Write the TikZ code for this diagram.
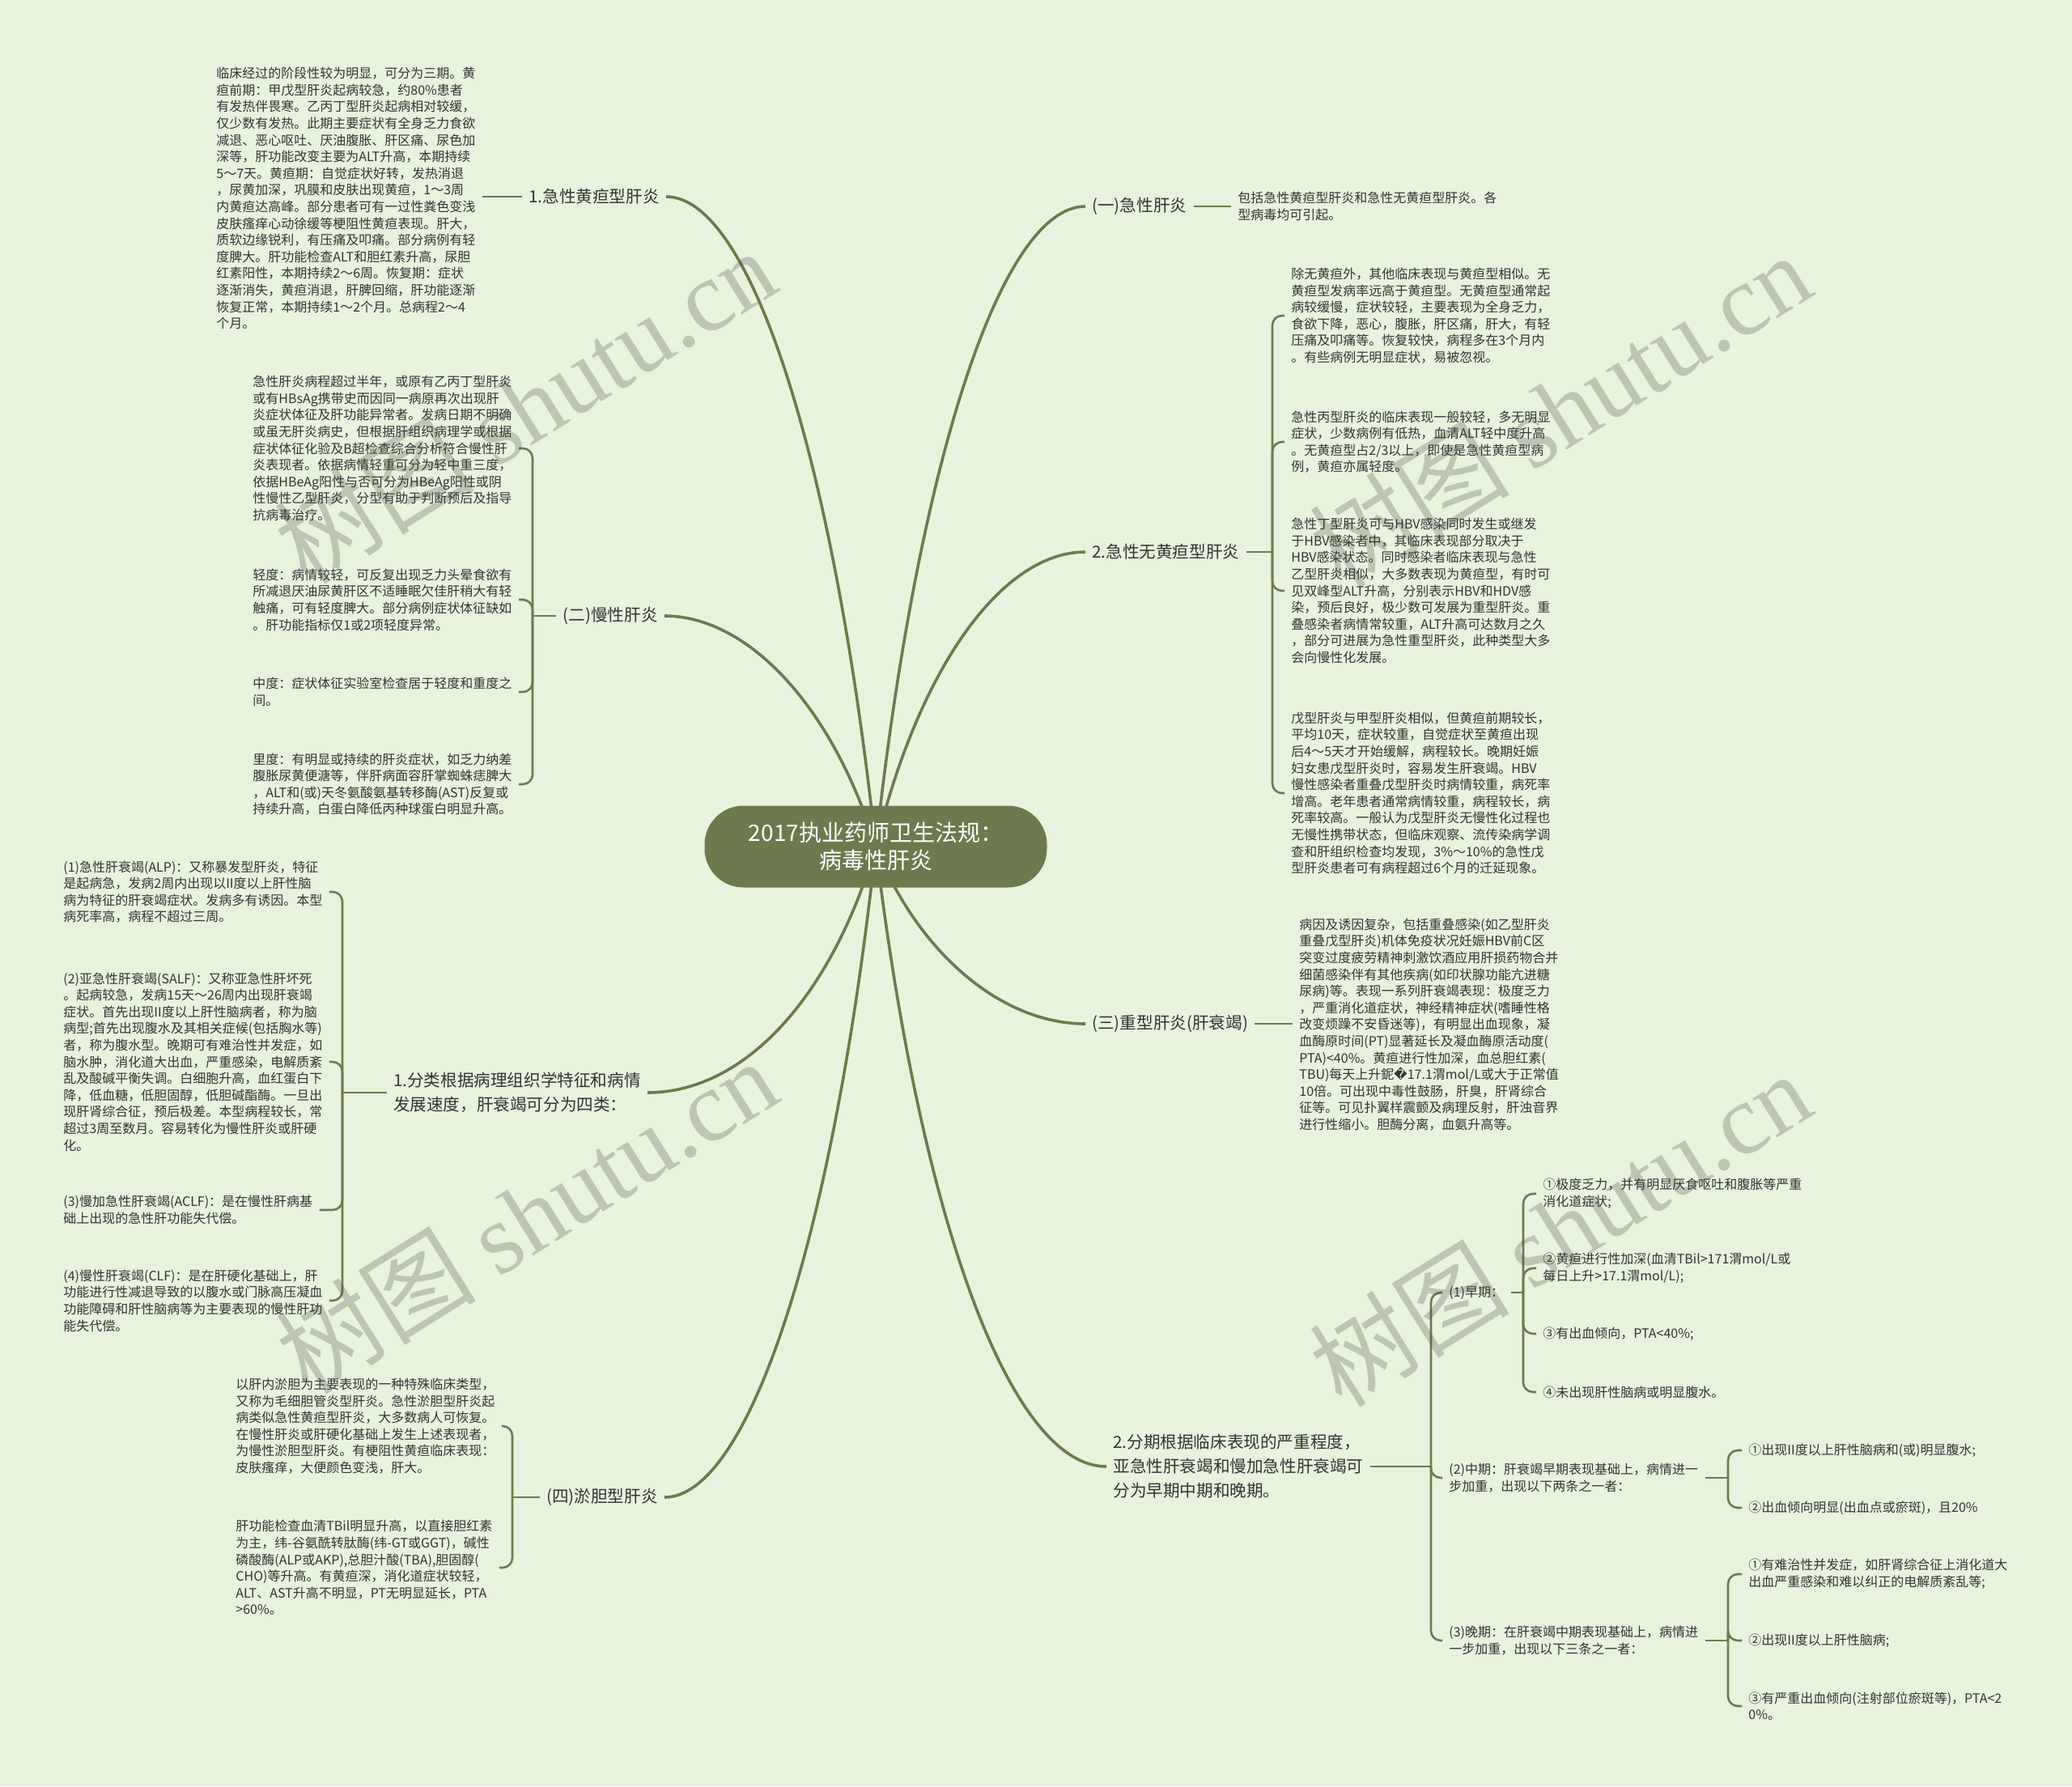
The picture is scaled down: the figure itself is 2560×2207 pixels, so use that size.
\documentclass[tikz,border=0pt]{standalone}
\usepackage{fontspec}
\setmainfont{Noto Sans CJK SC}
\newfontfamily\wmserif{Liberation Serif}
\newfontfamily\dejavu{DejaVu Sans}
\usetikzlibrary{calc}
\definecolor{bgc}{RGB}{232,243,221}
\definecolor{linec}{RGB}{110,122,78}
\definecolor{rootc}{RGB}{108,122,77}
\definecolor{txtc}{RGB}{51,51,51}
\pgfdeclarelayer{bgl}
\pgfdeclarelayer{lnl}
\pgfsetlayers{bgl,lnl,main}
\tikzset{
  small/.style={font=\fontsize{8}{10.3}\selectfont, text=txtc, align=left, inner xsep=4pt, inner ysep=0pt},
  branch/.style={font=\fontsize{10.3}{15}\selectfont, text=txtc, align=left, inner xsep=4pt, inner ysep=0pt},
  rootnode/.style={fill=rootc, rounded corners=24pt, text=white, font=\fontsize{14}{17}\selectfont, align=center, minimum width=211.5pt, minimum height=50.5pt, inner sep=0pt},
  mainline/.style={draw=linec, line width=1.8pt},
  subline/.style={draw=linec, line width=1.3pt, rounded corners=6pt},
  wm/.style={font=\fontsize{62}{62}\selectfont, text=black!75, text opacity=0.25, rotate=32, inner sep=0pt}
}
\begin{document}
\begin{tikzpicture}[x=0.5pt,y=-0.5pt]
\useasboundingbox (0,0) rectangle (2560,2207);
\begin{pgfonlayer}{bgl}
\fill[bgc] (0,0) rectangle (2560,2207);
\end{pgfonlayer}

% root
\node[rootnode] (root) at (1082,1046) {2017执业药师卫生法规：\\病毒性肝炎};

% level 1
\node[branch, anchor=east] (L1) at (823,243) {1.急性黄疸型肝炎};
\node[branch, anchor=east] (L2) at (821,761) {(二)慢性肝炎};
\node[branch, anchor=east] (L3) at (800,1350) {1.分类根据病理组织学特征和病情\\发展速度，肝衰竭可分为四类：};
\node[branch, anchor=east] (L4) at (821,1850) {(四)淤胆型肝炎};
\node[branch, anchor=west] (R1) at (1341,255) {(一)急性肝炎};
\node[branch, anchor=west] (R2) at (1341,682) {2.急性无黄疸型肝炎};
\node[branch, anchor=west] (R3) at (1341,1265) {(三)重型肝炎(肝衰竭)};
\node[branch, anchor=west] (R4) at (1367,1812) {2.分期根据临床表现的严重程度，\\亚急性肝衰竭和慢加急性肝衰竭可\\分为早期中期和晚期。};

% children of L1
\node[small, anchor=west] (A1) at (259,245) {临床经过的阶段性较为明显，可分为三期。黄\\疸前期：甲戊型肝炎起病较急，约80\%患者\\有发热伴畏寒。乙丙丁型肝炎起病相对较缓，\\仅少数有发热。此期主要症状有全身乏力食欲\\减退、恶心呕吐、厌油腹胀、肝区痛、尿色加\\深等，肝功能改变主要为ALT升高，本期持续\\5～7天。黄疸期：自觉症状好转，发热消退\\，尿黄加深，巩膜和皮肤出现黄疸，1～3周\\内黄疸达高峰。部分患者可有一过性粪色变浅\\皮肤瘙痒心动徐缓等梗阻性黄疸表现。肝大，\\质软边缘锐利，有压痛及叩痛。部分病例有轻\\度脾大。肝功能检查ALT和胆红素升高，尿胆\\红素阳性，本期持续2～6周。恢复期：症状\\逐渐消失，黄疸消退，肝脾回缩，肝功能逐渐\\恢复正常，本期持续1～2个月。总病程2～4\\个月。};

% children of L2
\node[small, anchor=west] (B1) at (304,554) {急性肝炎病程超过半年，或原有乙丙丁型肝炎\\或有HBsAg携带史而因同一病原再次出现肝\\炎症状体征及肝功能异常者。发病日期不明确\\或虽无肝炎病史，但根据肝组织病理学或根据\\症状体征化验及B超检查综合分析符合慢性肝\\炎表现者。依据病情轻重可分为轻中重三度，\\依据HBeAg阳性与否可分为HBeAg阳性或阴\\性慢性乙型肝炎，分型有助于判断预后及指导\\抗病毒治疗。};
\node[small, anchor=west] (B2) at (304,741) {轻度：病情较轻，可反复出现乏力头晕食欲有\\所减退厌油尿黄肝区不适睡眠欠佳肝稍大有轻\\触痛，可有轻度脾大。部分病例症状体征缺如\\。肝功能指标仅1或2项轻度异常。};
\node[small, anchor=west] (B3) at (304,855) {中度：症状体征实验室检查居于轻度和重度之\\间。};
\node[small, anchor=west] (B4) at (304,969) {里度：有明显或持续的肝炎症状，如乏力纳差\\腹胀尿黄便溏等，伴肝病面容肝掌蜘蛛痣脾大\\，ALT和(或)天冬氨酸氨基转移酶(AST)反复或\\持续升高，白蛋白降低丙种球蛋白明显升高。};

% children of L3
\node[small, anchor=west] (E1) at (70,1102) {(1)急性肝衰竭(ALP)：又称暴发型肝炎，特征\\是起病急，发病2周内出现以II度以上肝性脑\\病为特征的肝衰竭症状。发病多有诱因。本型\\病死率高，病程不超过三周。};
\node[small, anchor=west] (E2) at (70,1312) {(2)亚急性肝衰竭(SALF)：又称亚急性肝坏死\\。起病较急，发病15天～26周内出现肝衰竭\\症状。首先出现II度以上肝性脑病者，称为脑\\病型;首先出现腹水及其相关症候(包括胸水等)\\者，称为腹水型。晚期可有难治性并发症，如\\脑水肿，消化道大出血，严重感染，电解质紊\\乱及酸碱平衡失调。白细胞升高，血红蛋白下\\降，低血糖，低胆固醇，低胆碱酯酶。一旦出\\现肝肾综合征，预后极差。本型病程较长，常\\超过3周至数月。容易转化为慢性肝炎或肝硬\\化。};
\node[small, anchor=west] (E3) at (70,1495) {(3)慢加急性肝衰竭(ACLF)：是在慢性肝病基\\础上出现的急性肝功能失代偿。};
\node[small, anchor=west] (E4) at (70,1607) {(4)慢性肝衰竭(CLF)：是在肝硬化基础上，肝\\功能进行性减退导致的以腹水或门脉高压凝血\\功能障碍和肝性脑病等为主要表现的慢性肝功\\能失代偿。};

% children of L4
\node[small, anchor=west] (F1) at (283,1762) {以肝内淤胆为主要表现的一种特殊临床类型，\\又称为毛细胆管炎型肝炎。急性淤胆型肝炎起\\病类似急性黄疸型肝炎，大多数病人可恢复。\\在慢性肝炎或肝硬化基础上发生上述表现者，\\为慢性淤胆型肝炎。有梗阻性黄疸临床表现：\\皮肤瘙痒，大便颜色变浅，肝大。};
\node[small, anchor=west] (F2) at (283,1937) {肝功能检查血清TBil明显升高，以直接胆红素\\为主，纬-谷氨酰转肽酶(纬-GT或GGT)，碱性\\磷酸酶(ALP或AKP),总胆汁酸(TBA),胆固醇(\\CHO)等升高。有黄疸深，消化道症状较轻，\\ALT、AST升高不明显，PT无明显延长，PTA\\>60\%。};

% children of R1
\node[small, anchor=west] (G1) at (1521,255) {包括急性黄疸型肝炎和急性无黄疸型肝炎。各\\型病毒均可引起。};

% children of R2
\node[small, anchor=west] (H1) at (1587,390) {除无黄疸外，其他临床表现与黄疸型相似。无\\黄疸型发病率远高于黄疸型。无黄疸型通常起\\病较缓慢，症状较轻，主要表现为全身乏力，\\食欲下降，恶心，腹胀，肝区痛，肝大，有轻\\压痛及叩痛等。恢复较快，病程多在3个月内\\。有些病例无明显症状，易被忽视。};
\node[small, anchor=west] (H2) at (1587,546) {急性丙型肝炎的临床表现一般较轻，多无明显\\症状，少数病例有低热，血清ALT轻中度升高\\。无黄疸型占2/3以上，即使是急性黄疸型病\\例，黄疸亦属轻度。};
\node[small, anchor=west] (H3) at (1587,730) {急性丁型肝炎可与HBV感染同时发生或继发\\于HBV感染者中，其临床表现部分取决于\\HBV感染状态。同时感染者临床表现与急性\\乙型肝炎相似，大多数表现为黄疸型，有时可\\见双峰型ALT升高，分别表示HBV和HDV感\\染，预后良好，极少数可发展为重型肝炎。重\\叠感染者病情常较重，ALT升高可达数月之久\\，部分可进展为急性重型肝炎，此种类型大多\\会向慢性化发展。};
\node[small, anchor=west] (H4) at (1587,980) {戊型肝炎与甲型肝炎相似，但黄疸前期较长，\\平均10天，症状较重，自觉症状至黄疸出现\\后4～5天才开始缓解，病程较长。晚期妊娠\\妇女患戊型肝炎时，容易发生肝衰竭。HBV\\慢性感染者重叠戊型肝炎时病情较重，病死率\\增高。老年患者通常病情较重，病程较长，病\\死率较高。一般认为戊型肝炎无慢性化过程也\\无慢性携带状态，但临床观察、流传染病学调\\查和肝组织检查均发现，3\%～10\%的急性戊\\型肝炎患者可有病程超过6个月的迁延现象。};

% child of R3
\node[small, anchor=west] (I1) at (1597,1266) {病因及诱因复杂，包括重叠感染(如乙型肝炎\\重叠戊型肝炎)机体免疫状况妊娠HBV前C区\\突变过度疲劳精神刺激饮酒应用肝损药物合并\\细菌感染伴有其他疾病(如印状腺功能亢进糖\\尿病)等。表现一系列肝衰竭表现：极度乏力\\，严重消化道症状，神经精神症状(嗜睡性格\\改变烦躁不安昏迷等)，有明显出血现象，凝\\血酶原时间(PT)显著延长及凝血酶原活动度(\\PTA)<40\%。黄疸进行性加深，血总胆红素(\\TBU)每天上升鈮{\dejavu �}17.1渭mol/L或大于正常值\\10倍。可出现中毒性鼓肠，肝臭，肝肾综合\\征等。可见扑翼样震颤及病理反射，肝浊音界\\进行性缩小。胆酶分离，血氨升高等。};

% children of R4
\node[small, anchor=west] (J1) at (1782,1597) {(1)早期：};
\node[small, anchor=west] (J2) at (1782,1826) {(2)中期：肝衰竭早期表现基础上，病情进一\\步加重，出现以下两条之一者：};
\node[small, anchor=west] (J3) at (1782,2027) {(3)晚期：在肝衰竭中期表现基础上，病情进\\一步加重，出现以下三条之一者：};

\node[small, anchor=west] (K1) at (1898,1475) {①极度乏力，并有明显厌食呕吐和腹胀等严重\\消化道症状;};
\node[small, anchor=west] (K2) at (1898,1567) {②黄疸进行性加深(血清TBil>171渭mol/L或\\每日上升>17.1渭mol/L);};
\node[small, anchor=west] (K3) at (1898,1648) {③有出血倾向，PTA<40\%;};
\node[small, anchor=west] (K4) at (1898,1720) {④未出现肝性脑病或明显腹水。};

\node[small, anchor=west] (M1) at (2152,1792) {①出现II度以上肝性脑病和(或)明显腹水;};
\node[small, anchor=west] (M2) at (2152,1863) {②出血倾向明显(出血点或瘀斑)，且20\%};

\node[small, anchor=west] (N1) at (2152,1945) {①有难治性并发症，如肝肾综合征上消化道大\\出血严重感染和难以纠正的电解质紊乱等;};
\node[small, anchor=west] (N2) at (2152,2027) {②出现II度以上肝性脑病;};
\node[small, anchor=west] (N3) at (2152,2108) {③有严重出血倾向(注射部位瘀斑等)，PTA<2\\0\%。};

% bracket points
\coordinate (L2b) at (658,761);
\coordinate (L3b) at (423,1350);
\coordinate (L4b) at (633,1850);
\coordinate (R2b) at (1572,682);
\coordinate (R4b) at (1768,1812);
\coordinate (J1b) at (1882,1597);
\coordinate (J2b) at (2135,1826);
\coordinate (J3b) at (2135,2027);

\begin{pgfonlayer}{lnl}
% main curves
\draw[mainline] (root.center) .. controls (1030,564) and (927,243) .. (L1.east);
\draw[mainline] (root.center) .. controls (1030,875) and (925,761) .. (L2.east);
\draw[mainline] (root.center) .. controls (1029,1228) and (922,1350) .. (L3.east);
\draw[mainline] (root.center) .. controls (1030,1528) and (925,1850) .. (L4.east);
\draw[mainline] (root.center) .. controls (1134,571) and (1237,255) .. (R1.west);
\draw[mainline] (root.center) .. controls (1134,828) and (1237,682) .. (R2.west);
\draw[mainline] (root.center) .. controls (1134,1177) and (1237,1265) .. (R3.west);
\draw[mainline] (root.center) .. controls (1137,1506) and (1248,1812) .. (R4.west);

% single links
\draw[subline] (L1.west) -- (L1.west -| A1.east);
\draw[subline] (R1.east) -- (R1.east -| G1.west);
\draw[subline] (R3.east) -- (R3.east -| I1.west);

% brackets
\draw[subline] (L2.west) -- (L2b);
\foreach \c in {B1,B2,B3,B4} \draw[subline] (L2b) |- (\c.east);
\draw[subline] (L3.west) -- (L3b);
\foreach \c in {E1,E2,E3,E4} \draw[subline] (L3b) |- (\c.east);
\draw[subline] (L4.west) -- (L4b);
\foreach \c in {F1,F2} \draw[subline] (L4b) |- (\c.east);
\draw[subline] (R2.east) -- (R2b);
\foreach \c in {H1,H2,H3,H4} \draw[subline] (R2b) |- (\c.west);
\draw[subline] (R4.east) -- (R4b);
\foreach \c in {J1,J2,J3} \draw[subline] (R4b) |- (\c.west);
\draw[subline] (J1.east) -- (J1b);
\foreach \c in {K1,K2,K3,K4} \draw[subline] (J1b) |- (\c.west);
\draw[subline] (J2.east) -- (J2b);
\foreach \c in {M1,M2} \draw[subline] (J2b) |- (\c.west);
\draw[subline] (J3.east) -- (J3b);
\foreach \c in {N1,N2,N3} \draw[subline] (J3b) |- (\c.west);
\end{pgfonlayer}

% watermarks
\node[wm] (w1) at (648,501) {树图 {\wmserif shutu.cn}};
\node[wm] (w2) at (1927,506) {树图 {\wmserif shutu.cn}};
\node[wm] (w3) at (650,1502) {树图 {\wmserif shutu.cn}};
\node[wm] (w4) at (1927,1518) {树图 {\wmserif shutu.cn}};
\end{tikzpicture}
\end{document}
